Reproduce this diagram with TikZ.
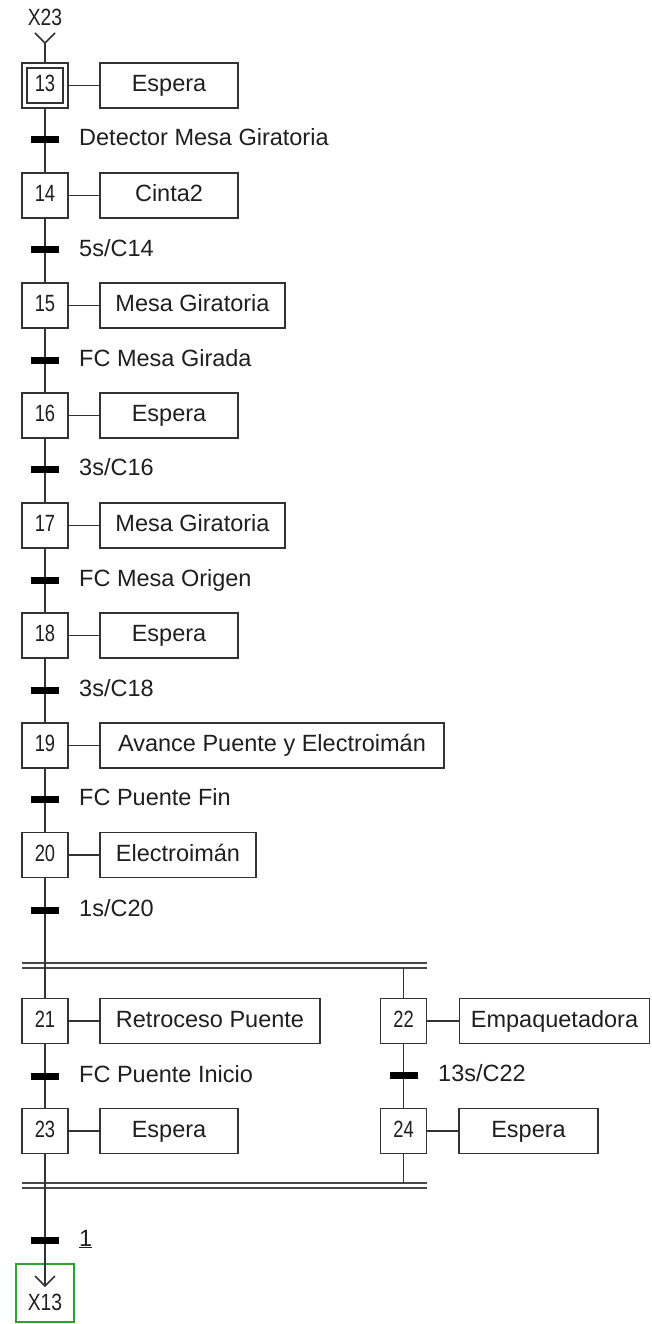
\documentclass[tikz,border=0pt]{standalone}
\usepackage{fontspec}
\setmainfont{Liberation Sans}
\definecolor{grafgreen}{RGB}{40,165,40}
\begin{document}
\begin{tikzpicture}[x=1pt,y=-1pt,
  every node/.style={text=black!88, font=\fontsize{23.5}{26}\selectfont, text height=17pt, text depth=5pt},
  ln/.style={draw=black!80, line width=1.7pt},
  stepbox/.style={ln, rectangle, minimum width=46pt, minimum height=45pt, inner sep=0pt},
  innerbox/.style={ln, rectangle, minimum width=36pt, minimum height=35pt, inner sep=0pt},
  actbox/.style={ln, rectangle, minimum height=45pt, inner sep=0pt},
  trbar/.style={fill=black, rectangle, minimum width=28pt, minimum height=7pt, inner sep=0pt, text height=0pt, text depth=0pt},
  trlabel/.style={anchor=west, inner sep=0pt},
  num/.style={inner sep=0pt},
  dline/.style={draw=black!72, line width=1.8pt}
]
\useasboundingbox (0,0) rectangle (651,1324);
\newcommand{\nm}[1]{\scalebox{0.78}[1]{#1}}

% entry X23
\node[num] (x23) at (45,20) {\scalebox{0.82}[1]{X23}};
\coordinate (y23) at (45,43);
\coordinate (y23l) at (35,33);
\coordinate (y23r) at (55,33);

% steps
\node[stepbox] (s13) at (45,85.5) {};
\node[innerbox] (s13in) at (45,85.5) {\nm{13}};
\node[stepbox] (s14) at (45,195.5) {\nm{14}};
\node[stepbox] (s15) at (45,305.5) {\nm{15}};
\node[stepbox] (s16) at (45,415.5) {\nm{16}};
\node[stepbox] (s17) at (45,525.5) {\nm{17}};
\node[stepbox] (s18) at (45,635.5) {\nm{18}};
\node[stepbox] (s19) at (45,745.5) {\nm{19}};
\node[stepbox] (s20) at (45,855) {\nm{20}};
\node[stepbox] (s21) at (45,1021) {\nm{21}};
\node[stepbox] (s22) at (403.5,1021) {\nm{22}};
\node[stepbox] (s23) at (45,1131) {\nm{23}};
\node[stepbox] (s24) at (403.5,1131) {\nm{24}};

% actions
\node[actbox, minimum width=138pt] (a13) at (169,85.5) {Espera};
\node[actbox, minimum width=138pt] (a14) at (169,195.5) {Cinta2};
\node[actbox, minimum width=185pt] (a15) at (192.5,305.5) {Mesa Giratoria};
\node[actbox, minimum width=138pt] (a16) at (169,415.5) {Espera};
\node[actbox, minimum width=185pt] (a17) at (192.5,525.5) {Mesa Giratoria};
\node[actbox, minimum width=138pt] (a18) at (169,635.5) {Espera};
\node[actbox, minimum width=344pt] (a19) at (272,745.5) {Avance Puente y Electroimán};
\node[actbox, minimum width=156pt] (a20) at (178,855) {Electroimán};
\node[actbox, minimum width=220pt] (a21) at (210,1021) {Retroceso Puente};
\node[actbox, minimum width=190pt] (a22) at (554.5,1021) {Empaquetadora};
\node[actbox, minimum width=138pt] (a23) at (169,1131) {Espera};
\node[actbox, minimum width=139pt] (a24) at (528.5,1131) {Espera};

\foreach \i in {14,...,24} {\draw[ln] (s\i.east) -- (a\i.west);}
\draw[ln] (s13.east) -- (a13.west);

% double lines
\coordinate (dtL1) at (22,963); \coordinate (dtR1) at (427,963);
\coordinate (dtL2) at (22,968); \coordinate (dtR2) at (427,968);
\coordinate (dbL1) at (22,1183); \coordinate (dbR1) at (427,1183);
\coordinate (dbL2) at (22,1188); \coordinate (dbR2) at (427,1188);
\draw[dline] (dtL1) -- (dtR1);
\draw[dline] (dtL2) -- (dtR2);
\draw[dline] (dbL1) -- (dbR1);
\draw[dline] (dbL2) -- (dbR2);

% vertical links
\draw[ln] (y23l) -- (y23) -- (y23r);
\draw[ln] (y23) -- (s13.north);
\draw[ln] (s13.south) -- (s14.north);
\draw[ln] (s14.south) -- (s15.north);
\draw[ln] (s15.south) -- (s16.north);
\draw[ln] (s16.south) -- (s17.north);
\draw[ln] (s17.south) -- (s18.north);
\draw[ln] (s18.south) -- (s19.north);
\draw[ln] (s19.south) -- (s20.north);
\draw[ln] (s20.south) -- (s20.south |- dtL2);
\draw[ln] (s21.north) -- (s21.north |- dtL1);
\draw[ln] (s22.north) -- (s22.north |- dtL2);
\draw[ln] (s21.south) -- (s23.north);
\draw[ln] (s22.south) -- (s24.north);
\draw[ln] (s23.south) -- (s23.south |- dbL2);
\draw[ln] (s24.south) -- (s24.south |- dbL1);

% exit to X13
\node[draw=grafgreen, line width=2pt, minimum width=58pt, minimum height=58pt, inner sep=0pt, text height=0pt, text depth=0pt] (x13) at (45,1293) {};
\node[num] (x13t) at (45,1304) {\scalebox{0.82}[1]{X13}};
\coordinate (ar) at (45,1286);
\coordinate (arl) at (35,1276);
\coordinate (arr) at (55,1276);
\draw[ln] (s23.south |- dbL1) -- (ar);
\draw[ln] (arl) -- (ar) -- (arr);

% transitions
\node[trbar] (t13) at (45,140) {};
\node[trlabel] at (79,140) {Detector Mesa Giratoria};
\node[trbar] (t14) at (45,250) {};
\node[trlabel] at (79,250) {5s/C14};
\node[trbar] (t15) at (45,360) {};
\node[trlabel] at (79,360) {FC Mesa Girada};
\node[trbar] (t16) at (45,469) {};
\node[trlabel] at (79,469) {3s/C16};
\node[trbar] (t17) at (45,580) {};
\node[trlabel] at (79,580) {FC Mesa Origen};
\node[trbar] (t18) at (45,690) {};
\node[trlabel] at (79,690) {3s/C18};
\node[trbar] (t19) at (45,799) {};
\node[trlabel] at (79,799) {FC Puente Fin};
\node[trbar] (t20) at (45,910) {};
\node[trlabel] at (79,910) {1s/C20};
\node[trbar] (t21) at (45,1076) {};
\node[trlabel] at (79,1076) {FC Puente Inicio};
\node[trbar] (t22) at (403.5,1075) {};
\node[trlabel] at (438,1075) {13s/C22};
\node[trbar] (t23) at (45,1240) {};
\node[trlabel] at (79,1240) {\underline{1}};
\end{tikzpicture}
\end{document}
